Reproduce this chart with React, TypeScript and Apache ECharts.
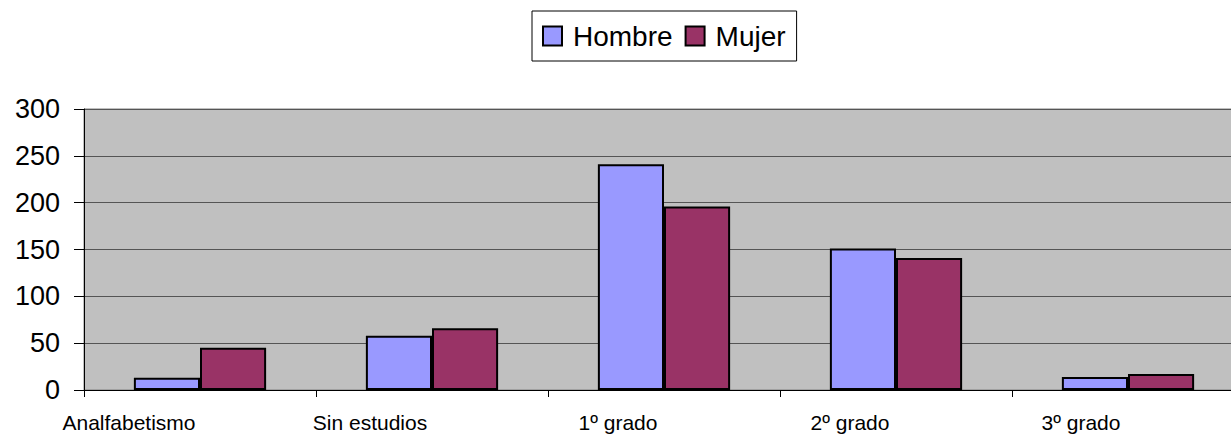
import React, { useEffect, useRef } from "react";
import * as echarts from "echarts";

const categories = ["Analfabetismo", "Sin estudios", "1º grado", "2º grado", "3º grado"];
const hombre = [13, 58, 241, 151, 14];
const mujer = [45, 66, 196, 141, 17];
const labelShift = [142, 124, 92, 92, 94];

export default function App() {
  const ref = useRef<HTMLDivElement>(null);
  useEffect(() => {
    document.body.style.margin = "0";
    document.body.style.overflow = "hidden";
    if (!ref.current) return;
    const chart = echarts.init(ref.current, null, { renderer: "svg" });
    const font = "'Liberation Sans', Arial, sans-serif";
    const rich: any = {};
    labelShift.forEach((s, i) => {
      rich["c" + i] = { padding: [0, s, 0, 0], fontSize: 21, fontFamily: font, color: "#000" };
    });
    chart.setOption({
      animation: false,
      backgroundColor: "#fff",
      legend: {
        left: 532,
        top: 11,
        padding: [11, 11, 11, 10],
        itemWidth: 19,
        itemHeight: 19,
        itemGap: 12,
        borderColor: "#000",
        borderWidth: 1,
        icon: "rect",
        textStyle: { fontSize: 28, fontFamily: font, color: "#000", padding: [0, 0, 0, 6] },
        data: ["Hombre", "Mujer"],
      },
      grid: {
        left: 84,
        top: 109,
        width: 1160,
        height: 281,
        show: true,
        backgroundColor: "#C0C0C0",
        borderColor: "#808080",
        borderWidth: 1,
        containLabel: false,
      },
      xAxis: {
        type: "category",
        data: categories,
        boundaryGap: true,
        axisLine: { show: true, lineStyle: { color: "#000", width: 1 } },
        axisTick: { show: true, length: 7, inside: false, lineStyle: { color: "#000" } },
        axisLabel: {
          margin: 22,
          interval: 0,
          formatter: (v: string, i: number) => `{c${i}|${v}}`,
          rich,
        },
      },
      yAxis: {
        type: "value",
        min: 0,
        max: 300,
        interval: 50,
        axisLine: { show: true, lineStyle: { color: "#000", width: 1 } },
        axisTick: { show: true, length: 10, inside: false, lineStyle: { color: "#000" } },
        axisLabel: { margin: 24, fontSize: 27, fontFamily: font, color: "#000" },
        splitLine: { show: true, lineStyle: { color: "#555", width: 1 } },
      },
      series: [
        {
          name: "Hombre",
          type: "bar",
          data: hombre,
          barCategoryGap: "43%",
          barGap: "0%",
          itemStyle: { color: "#9999FF", borderColor: "#000", borderWidth: 2 },
        },
        {
          name: "Mujer",
          type: "bar",
          data: mujer,
          barCategoryGap: "43%",
          barGap: "0%",
          itemStyle: { color: "#993366", borderColor: "#000", borderWidth: 2 },
        },
      ],
    });
    return () => chart.dispose();
  }, []);
  return (
    <div style={{ position: "absolute", left: 0, top: 0, width: 1231, height: 434, overflow: "hidden" }}>
      <div ref={ref} style={{ width: 1270, height: 434 }} />
    </div>
  );
}
